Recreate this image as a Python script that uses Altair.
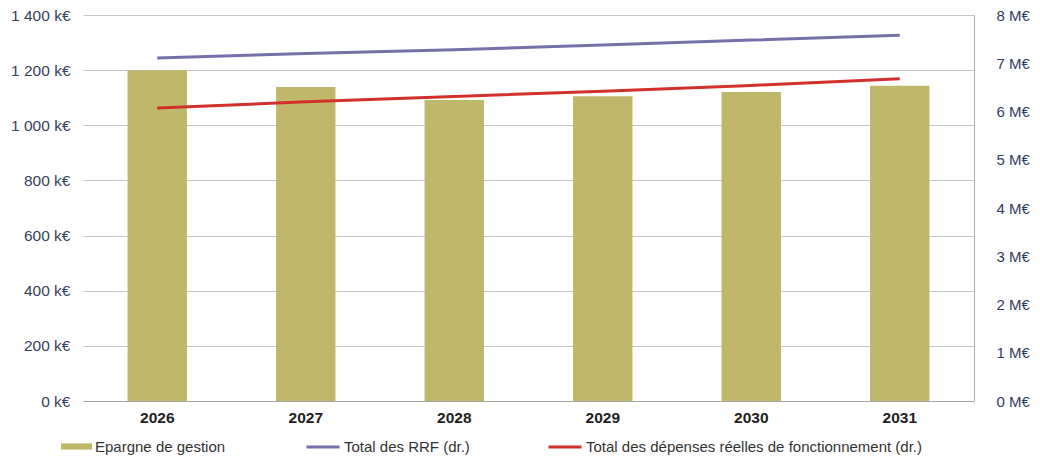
import altair as alt
import pandas as pd

years = ["2026", "2027", "2028", "2029", "2030", "2031"]
epargne_k = [1200, 1139, 1092, 1105, 1121, 1143]          # k€ (left axis)
rrf_m = [7.11, 7.20, 7.28, 7.38, 7.48, 7.58]               # M€ (right axis)
drf_m = [6.07, 6.20, 6.31, 6.42, 6.54, 6.68]               # M€ (right axis)

bar_name = "Epargne de gestion"
rrf_name = "Total des RRF (dr.)"
drf_name = "Total des dépenses réelles de fonctionnement (dr.)"

bar_color = "#bfb86a"
rrf_color = "#7470a8"
drf_color = "#d2302b"

df_bar = pd.DataFrame({"year": years, "value": epargne_k, "serie": [bar_name] * len(years)})
df_lines = pd.DataFrame({
    "year": years + years,
    "value": rrf_m + drf_m,
    "serie": [rrf_name] * len(years) + [drf_name] * len(years),
})

FONT = "Liberation Sans"

x_enc = alt.X(
    "year:O",
    sort=years,
    scale=alt.Scale(paddingInner=0.6, paddingOuter=0.3),
    axis=alt.Axis(
        title=None, labelAngle=0, labelFontWeight="bold", labelFontSize=15.5,
        labelColor="#222222", labelPadding=9, ticks=False,
        domainColor="#a6a6a6", domainWidth=1, grid=False,
    ),
)

bars = alt.Chart(df_bar).mark_bar(color=bar_color).encode(
    x=x_enc,
    y=alt.Y(
        "value:Q",
        scale=alt.Scale(domain=[0, 1400], nice=False),
        axis=alt.Axis(
            title=None, values=[0, 200, 400, 600, 800, 1000, 1200, 1400],
            labelExpr="replace(format(datum.value, ','), ',', ' ') + ' k€'",
            labelFontSize=15.5, labelColor="#34415c", labelPadding=13,
            ticks=False, domain=False, grid=True, gridColor="#c4c4c4", gridWidth=1,
        ),
    ),
    color=alt.Color(
        "serie:N",
        scale=alt.Scale(domain=[bar_name], range=[bar_color]),
        legend=alt.Legend(
            orient="none", legendX=-22, legendY=416, direction="horizontal",
            title=None, symbolType="M-1,-0.2H1V0.2H-1Z", symbolSize=961,
            symbolStrokeWidth=0, labelOffset=3, labelLimit=500,
        ),
    ),
)

lines = alt.Chart(df_lines).mark_line(strokeWidth=3).encode(
    x=x_enc,
    y=alt.Y(
        "value:Q",
        scale=alt.Scale(domain=[0, 8], nice=False),
        axis=alt.Axis(
            title=None, orient="right", values=list(range(9)),
            labelExpr="datum.value + ' M€'",
            labelFontSize=15, labelColor="#2f3d63", labelPadding=22,
            ticks=False, domain=True, domainColor="#b0b0b0", grid=False,
        ),
    ),
    color=alt.Color(
        "serie:N",
        scale=alt.Scale(domain=[rrf_name, drf_name], range=[rrf_color, drf_color]),
        legend=alt.Legend(
            orient="none", legendX=222, legendY=414, direction="horizontal",
            title=None, symbolType="stroke", symbolSize=1089, symbolStrokeWidth=3,
            columnPadding=72, labelOffset=3, labelLimit=500,
        ),
    ),
    detail="serie:N",
)

chart = (
    alt.layer(bars, lines)
    .resolve_scale(y="independent", color="independent")
    .properties(
        width=891, height=386,
        autosize=alt.AutoSizeParams(type="none"),
        padding={"left": 75, "top": 7, "right": 58, "bottom": 59},
    )
    .configure(font=FONT)
    .configure_view(stroke=None)
    .configure_legend(labelFontSize=15, labelColor="#333333", labelFont=FONT)
)

chart.save("out.html", embed_options={"renderer": "svg", "actions": False})
